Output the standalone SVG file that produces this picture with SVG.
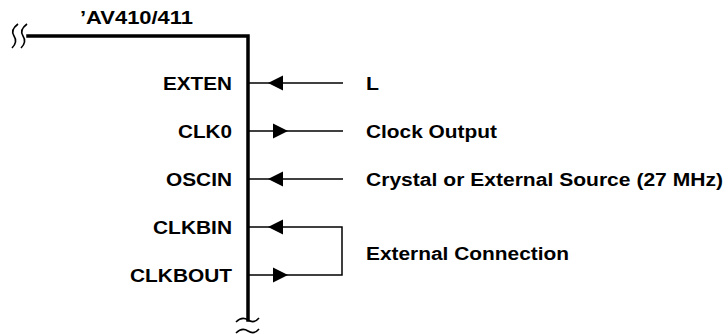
<svg xmlns="http://www.w3.org/2000/svg" xmlns:xlink="http://www.w3.org/1999/xlink" width="728" height="334" viewBox="0 0 728 334">
<style>
  text { font-family: "Liberation Sans", Arial, Helvetica, sans-serif; font-weight: bold; font-size: 18px; fill: #000; }
  .pin { text-anchor: end; }
  .bus { fill: none; stroke: #000; stroke-width: 3.5; stroke-linecap: square; }
  .brk { fill: none; stroke: #000; stroke-width: 1.6; }
  .wire { fill: none; stroke: #000; stroke-width: 1.5; }
  .head { fill: #000; stroke: none; }
</style>
<defs>
  <path id="arrL" class="head" d="M0 0 L15 -7.5 L15 7.5 Z"/>
  <path id="arrR" class="head" d="M15 0 L0 -7.5 L0 7.5 Z"/>
</defs>
<rect width="728" height="334" fill="#fff"/>

<g id="device">
  <text x="80" y="24" textLength="113" lengthAdjust="spacingAndGlyphs">’AV410/411</text>
  <path class="bus" d="M28 36 H248 V320"/>
  <path class="brk" d="M18 24 Q10 30 14 36 Q18 42 12 48"/>
  <path class="brk" d="M27 24 Q19 30 23 36 Q27 42 21 48"/>
  <path class="brk" d="M236 322 Q242 316 248 320 Q254 324 259 318"/>
  <path class="brk" d="M236 333 Q242 327 248 331 Q254 335 259 329"/>
</g>

<g id="pin-exten"><text class="pin" x="232" y="90" textLength="69" lengthAdjust="spacingAndGlyphs">EXTEN</text></g>
<g id="pin-clk0"><text class="pin" x="232" y="138" textLength="54" lengthAdjust="spacingAndGlyphs">CLK0</text></g>
<g id="pin-oscin"><text class="pin" x="232" y="186" textLength="66" lengthAdjust="spacingAndGlyphs">OSCIN</text></g>
<g id="pin-clkbin"><text class="pin" x="232" y="234" textLength="79" lengthAdjust="spacingAndGlyphs">CLKBIN</text></g>
<g id="pin-clkbout"><text class="pin" x="232" y="282" textLength="102" lengthAdjust="spacingAndGlyphs">CLKBOUT</text></g>

<g id="ext-l"><text x="366" y="90" textLength="13" lengthAdjust="spacingAndGlyphs">L</text></g>
<g id="ext-clock-output"><text x="366" y="138" textLength="131" lengthAdjust="spacingAndGlyphs">Clock Output</text></g>
<g id="ext-crystal"><text x="366" y="186" textLength="357" lengthAdjust="spacingAndGlyphs">Crystal or External Source (27 MHz)</text></g>
<g id="ext-connection"><text x="366" y="260" textLength="203" lengthAdjust="spacingAndGlyphs">External Connection</text></g>

<g id="connectors">
  <path class="wire" d="M249 83 H343"/>
  <use xlink:href="#arrL" x="268" y="83"/>
  <path class="wire" d="M249 131 H343"/>
  <use xlink:href="#arrR" x="273" y="131"/>
  <path class="wire" d="M249 179 H343"/>
  <use xlink:href="#arrL" x="268" y="179"/>
  <path class="wire" d="M249 227 H342 V275 H249"/>
  <use xlink:href="#arrL" x="268" y="227"/>
  <use xlink:href="#arrR" x="273" y="275"/>
</g>
</svg>
